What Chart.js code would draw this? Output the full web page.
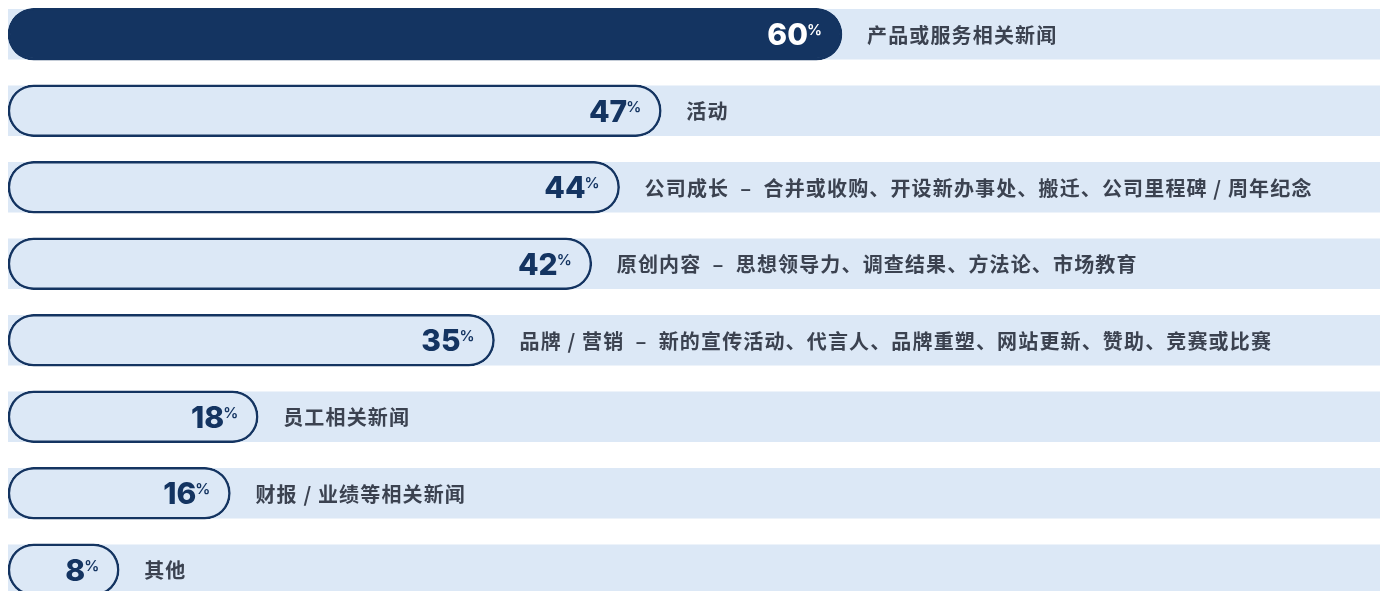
<!DOCTYPE html>
<html>
<head>
<meta charset="utf-8">
<script src="https://cdn.jsdelivr.net/npm/chart.js@4/dist/chart.umd.min.js"></script>
<style>
  html, body { margin: 0; padding: 0; background: #ffffff; overflow: hidden; width: 1380px; height: 591px; }
  #wrap { position: absolute; left: 0; top: -4px; width: 1398px; height: 612px; }
  canvas { display: block; }
</style>
</head>
<body>
<div id="wrap"><canvas id="c" width="1398" height="612"></canvas></div>
<script>
const categories = [
  '产品或服务相关新闻',
  '活动',
  '公司成长\u2002–\u2002合并或收购、开设新办事处、搬迁、公司里程碑 / 周年纪念',
  '原创内容\u2002–\u2002思想领导力、调查结果、方法论、市场教育',
  '品牌 / 营销\u2002–\u2002新的宣传活动、代言人、品牌重塑、网站更新、赞助、竞赛或比赛',
  '员工相关新闻',
  '财报 / 业绩等相关新闻',
  '其他'
];
const values = [60, 47, 44, 42, 35, 18, 16, 8];
const trackValues = [100, 100, 100, 100, 100, 100, 100, 100];
const valueSuffix = '%';

const NAVY = '#143461';
const LIGHT = '#dce8f6';

const labelPlugin = {
  id: 'barLabels',
  afterDatasetsDraw(chart) {
    const meta = chart.getDatasetMeta(1);
    const ctx = chart.ctx;
    ctx.save();
    meta.data.forEach((bar, i) => {
      const xEnd = bar.x;
      const y = bar.y;
      const numColor = i === 0 ? '#ffffff' : NAVY;
      // percent sign
      ctx.font = '600 15px Inter, "DejaVu Sans", sans-serif';
      ctx.textAlign = 'right';
      ctx.textBaseline = 'alphabetic';
      ctx.fillStyle = numColor;
      const pctRight = xEnd - 20;
      ctx.fillText(valueSuffix, pctRight, y + 1);
      const pctW = ctx.measureText(valueSuffix).width;
      // number
      ctx.font = '800 30px Inter, "DejaVu Sans", sans-serif';
      ctx.fillText(String(values[i]), pctRight - pctW + 1, y + 11);
      // category label
      ctx.font = 'bold 20px "Noto Sans CJK SC", sans-serif';
      try { ctx.letterSpacing = '1.15px'; } catch (e) {}
      ctx.textAlign = 'left';
      ctx.textBaseline = 'middle';
      ctx.fillStyle = '#3b4250';
      ctx.fillText(categories[i], xEnd + 25, y + 1);
      try { ctx.letterSpacing = '0px'; } catch (e) {}
    });
    ctx.restore();
  }
};

new Chart(document.getElementById('c'), {
  type: 'bar',
  data: {
    labels: categories,
    datasets: [
      {
        label: 'track',
        data: trackValues,
        backgroundColor: LIGHT,
        borderWidth: 0,
        borderRadius: 0,
        barThickness: 50,
        grouped: false,
        order: 2
      },
      {
        label: 'value',
        data: values,
        backgroundColor: values.map((v, i) => i === 0 ? NAVY : LIGHT),
        borderColor: NAVY,
        borderWidth: 2.5,
        borderRadius: 26,
        borderSkipped: false,
        barThickness: 52,
        grouped: false,
        order: 1
      }
    ]
  },
  options: {
    indexAxis: 'y',
    responsive: false,
    animation: false,
    devicePixelRatio: 1,
    layout: { padding: { left: 8, right: 0, top: 0, bottom: 0 } },
    scales: {
      x: { display: false, min: 0, max: 100 },
      y: { display: false, offset: true }
    },
    plugins: {
      legend: { display: false },
      tooltip: { enabled: false }
    }
  },
  plugins: [labelPlugin]
});
</script>
</body>
</html>
